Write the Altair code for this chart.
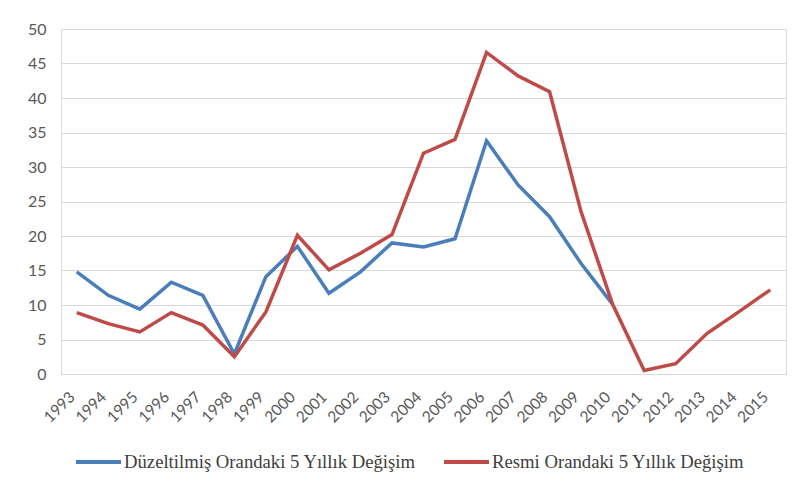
import altair as alt
import pandas as pd

years = [str(y) for y in range(1993, 2016)]
duzeltilmis = [14.8, 11.4, 9.4, 13.3, 11.4, 2.9, 14.1, 18.5, 11.7, 14.8, 19.0, 18.4, 19.6,
               33.8, 27.4, 22.8, 16.0, 10.1, None, None, None, None, None]
resmi = [8.9, 7.3, 6.1, 8.9, 7.1, 2.5, 9.0, 20.1, 15.1, 17.5, 20.2, 32.0, 34.0,
         46.6, 43.2, 40.9, 23.5, 10.1, 0.5, 1.5, 5.9, 9.0, 12.2]

s1 = "Düzeltilmiş Orandaki 5 Yıllık Değişim"
s2 = "Resmi Orandaki 5 Yıllık Değişim"

rows = []
for y, v in zip(years, duzeltilmis):
    if v is not None:
        rows.append({"Yıl": y, "Değer": v, "Seri": s1})
for y, v in zip(years, resmi):
    if v is not None:
        rows.append({"Yıl": y, "Değer": v, "Seri": s2})
df = pd.DataFrame(rows)

chart = alt.Chart(df).mark_line(strokeWidth=3.5, strokeJoin="miter").encode(
    x=alt.X("Yıl:O", sort=years, title=None,
            axis=alt.Axis(labelAngle=-45, labelAlign="right", labelBaseline="middle",
                          labelFont="Lato", labelFontSize=15.5, labelColor="#595959",
                          ticks=False, domain=False, grid=False, labelPadding=20,
                          labelOffset=-5)),
    y=alt.Y("Değer:Q", title=None,
            scale=alt.Scale(domain=[0, 50], nice=False),
            axis=alt.Axis(values=list(range(0, 55, 5)), labelFont="Lato", labelFontSize=16,
                          labelColor="#595959", ticks=False, domain=False,
                          gridColor="#d9d9d9", gridWidth=1, labelPadding=15)),
    color=alt.Color("Seri:N",
                    scale=alt.Scale(domain=[s1, s2], range=["#4a7ebb", "#be4b48"]),
                    legend=alt.Legend(title=None, orient="none", direction="horizontal",
                                      legendX=13, legendY=408,
                                      symbolType="stroke", symbolStrokeWidth=4,
                                      symbolSize=2025, labelFont="Liberation Serif",
                                      labelFontSize=18.7, labelColor="#404040", labelLimit=0,
                                      columnPadding=20, symbolOffset=0, labelOffset=1)),
).properties(
    width=725, height=345,
    autosize=alt.AutoSizeParams(type="none"),
    padding={"left": 53, "top": 21, "right": 14, "bottom": 116},
).configure_view(stroke=None).configure(background="white")

chart.save("out.html", embed_options={"renderer": "svg", "actions": False})
